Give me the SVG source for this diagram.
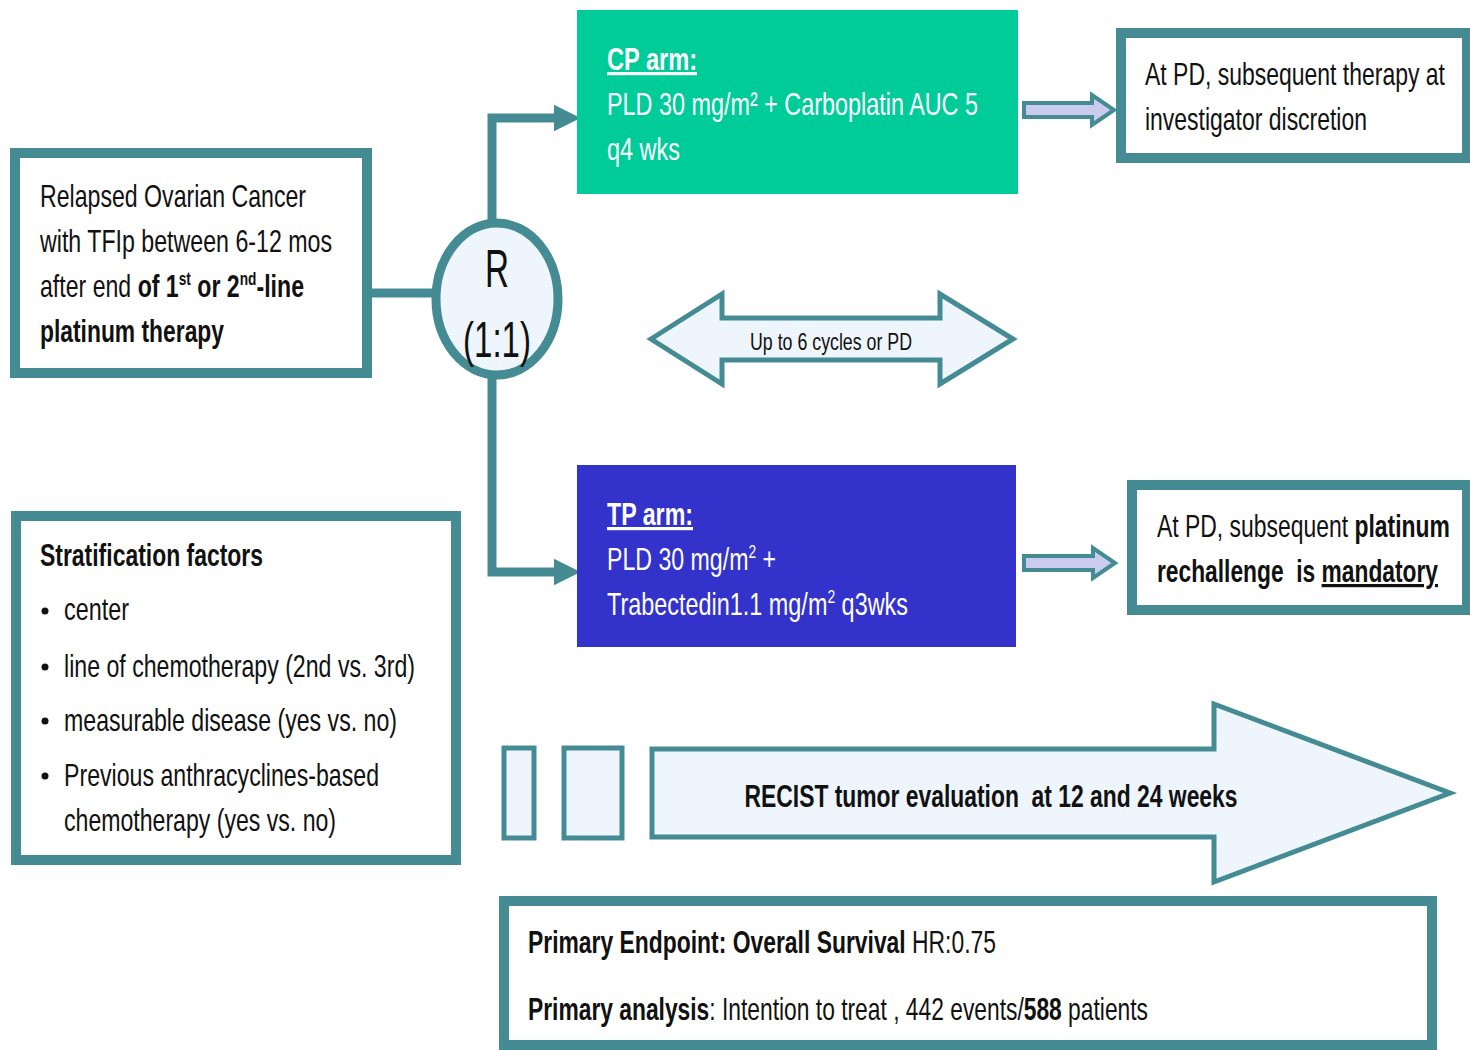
<svg xmlns="http://www.w3.org/2000/svg" width="1470" height="1050" viewBox="0 0 1470 1050">
  <defs>
    <style>
      .box { fill: #ffffff; stroke: #448B93; stroke-width: 10; }
      .line { fill: none; stroke: #448B93; stroke-width: 9; }
      .pale { fill: #EEF5FC; stroke: #448B93; stroke-width: 5; }
      .small-arrow { fill: #CBCBEE; stroke: #448B93; stroke-width: 4; }
      text { font-family: "Liberation Sans", Arial, sans-serif; }
      .t { font-size: 32px; fill: #111111; }
      .w { font-size: 32px; fill: #ffffff; }
      .b { font-weight: bold; }
      .u { text-decoration: underline; }
      .pre { white-space: pre; }
      .sup { font-size: 19px; baseline-shift: 12px; }
    </style>
    <marker id="head" viewBox="0 0 10 10" refX="2" refY="5" markerWidth="3" markerHeight="3.3" orient="auto" markerUnits="strokeWidth">
      <path d="M0,0 L10,5 L0,10 Z" fill="#448B93"/>
    </marker>
  </defs>

  <!-- connectors -->
  <g id="connectors">
    <path class="line" d="M372,293 H436"/>
    <path class="line" d="M492,222 V118 H559" marker-end="url(#head)"/>
    <path class="line" d="M492,378 V572 H559" marker-end="url(#head)"/>
    <path class="small-arrow" d="M1024,103 H1092 V95 L1114,110 L1092,125 V117 H1024 Z"/>
    <path class="small-arrow" d="M1024,556 H1093 V548 L1115,563 L1093,578 V570 H1024 Z"/>
  </g>

  <!-- entry population -->
  <g id="population">
    <rect class="box" x="15" y="153" width="352" height="220"/>
    <text class="t" x="40" y="207" textLength="266" lengthAdjust="spacingAndGlyphs">Relapsed Ovarian Cancer</text>
    <text class="t" x="40" y="252" textLength="292" lengthAdjust="spacingAndGlyphs">with TFIp between 6-12 mos</text>
    <text class="t" x="40" y="297" textLength="264" lengthAdjust="spacingAndGlyphs">after end <tspan class="b">of 1<tspan class="sup">st</tspan> or 2<tspan class="sup">nd</tspan>-line</tspan></text>
    <text class="t b" x="40" y="342" textLength="184" lengthAdjust="spacingAndGlyphs">platinum therapy</text>
  </g>

  <!-- randomisation -->
  <g id="randomisation">
    <ellipse cx="497" cy="299" rx="61" ry="76" fill="#EEF5FC" stroke="#448B93" stroke-width="9"/>
    <text x="497" y="287" font-size="54" text-anchor="middle" fill="#111111" textLength="24" lengthAdjust="spacingAndGlyphs">R</text>
    <text x="497" y="357" font-size="50" text-anchor="middle" fill="#111111" textLength="68" lengthAdjust="spacingAndGlyphs">(1:1)</text>
  </g>

  <!-- CP arm -->
  <g id="cp-arm">
    <rect x="577" y="10" width="441" height="184" fill="#00CC99"/>
    <text class="w b u" x="607" y="70" textLength="90" lengthAdjust="spacingAndGlyphs">CP arm:</text>
    <text class="w" x="607" y="115" textLength="371" lengthAdjust="spacingAndGlyphs">PLD 30 mg/m² + Carboplatin AUC 5</text>
    <text class="w" x="607" y="160" textLength="73" lengthAdjust="spacingAndGlyphs">q4 wks</text>
  </g>

  <!-- CP follow-up -->
  <g id="cp-followup">
    <rect class="box" x="1121" y="33" width="346" height="125"/>
    <text class="t" x="1145" y="85" textLength="300" lengthAdjust="spacingAndGlyphs">At PD, subsequent therapy at</text>
    <text class="t" x="1145" y="130" textLength="222" lengthAdjust="spacingAndGlyphs">investigator discretion</text>
  </g>

  <!-- treatment duration -->
  <g id="duration">
    <path class="pale" d="M651,339 L722,294 V318 H940 V294 L1013,339 L940,384 V360 H722 V384 Z" stroke-width="4"/>
    <text x="831" y="350" font-size="24" text-anchor="middle" fill="#111111" textLength="162" lengthAdjust="spacingAndGlyphs">Up to 6 cycles or PD</text>
  </g>

  <!-- TP arm -->
  <g id="tp-arm">
    <rect x="577" y="465" width="439" height="182" fill="#3333CC"/>
    <text class="w b u" x="607" y="525" textLength="86" lengthAdjust="spacingAndGlyphs">TP arm:</text>
    <text class="w" x="607" y="570" textLength="169" lengthAdjust="spacingAndGlyphs">PLD 30 mg/m<tspan class="sup">2</tspan> +</text>
    <text class="w" x="607" y="615" textLength="301" lengthAdjust="spacingAndGlyphs">Trabectedin1.1 mg/m<tspan class="sup">2</tspan> q3wks</text>
  </g>

  <!-- TP follow-up -->
  <g id="tp-followup">
    <rect class="box" x="1132" y="485" width="335" height="125"/>
    <text class="t" x="1157" y="537" textLength="293" lengthAdjust="spacingAndGlyphs">At PD, subsequent <tspan class="b">platinum</tspan></text>
    <text class="t b pre" x="1157" y="582" textLength="281" lengthAdjust="spacingAndGlyphs">rechallenge  is <tspan class="u">mandatory</tspan></text>
  </g>

  <!-- stratification -->
  <g id="stratification">
    <rect class="box" x="16" y="516" width="440" height="344" stroke-width="8"/>
    <text class="t b" x="40" y="566" textLength="223" lengthAdjust="spacingAndGlyphs">Stratification factors</text>
    <g fill="#111111">
      <circle cx="45" cy="611" r="3.5"/>
      <circle cx="45" cy="667" r="3.5"/>
      <circle cx="45" cy="721" r="3.5"/>
      <circle cx="45" cy="776" r="3.5"/>
    </g>
    <text class="t" x="64" y="620" textLength="65" lengthAdjust="spacingAndGlyphs">center</text>
    <text class="t" x="64" y="677" textLength="351" lengthAdjust="spacingAndGlyphs">line of chemotherapy (2nd vs. 3rd)</text>
    <text class="t" x="64" y="731" textLength="333" lengthAdjust="spacingAndGlyphs">measurable disease (yes vs. no)</text>
    <text class="t" x="64" y="786" textLength="315" lengthAdjust="spacingAndGlyphs">Previous anthracyclines-based</text>
    <text class="t" x="64" y="831" textLength="272" lengthAdjust="spacingAndGlyphs">chemotherapy (yes vs. no)</text>
  </g>

  <!-- tumour evaluation -->
  <g id="evaluation">
    <rect class="pale" x="504" y="748" width="30" height="90"/>
    <rect class="pale" x="564" y="748" width="58" height="90"/>
    <path class="pale" d="M652,749 H1214 V704 L1450,793 L1214,882 V837 H652 Z" stroke-width="4"/>
    <text class="t b pre" x="991" y="807" text-anchor="middle" textLength="493" lengthAdjust="spacingAndGlyphs">RECIST tumor evaluation  at 12 and 24 weeks</text>
  </g>

  <!-- endpoints -->
  <g id="endpoints">
    <rect class="box" x="504" y="901" width="928" height="144"/>
    <text class="t" x="528" y="953" textLength="468" lengthAdjust="spacingAndGlyphs"><tspan class="b">Primary Endpoint: Overall Survival</tspan> HR:0.75</text>
    <text class="t" x="528" y="1020" textLength="620" lengthAdjust="spacingAndGlyphs"><tspan class="b">Primary analysis</tspan>: Intention to treat , 442 events/<tspan class="b">588</tspan> patients</text>
  </g>
</svg>
